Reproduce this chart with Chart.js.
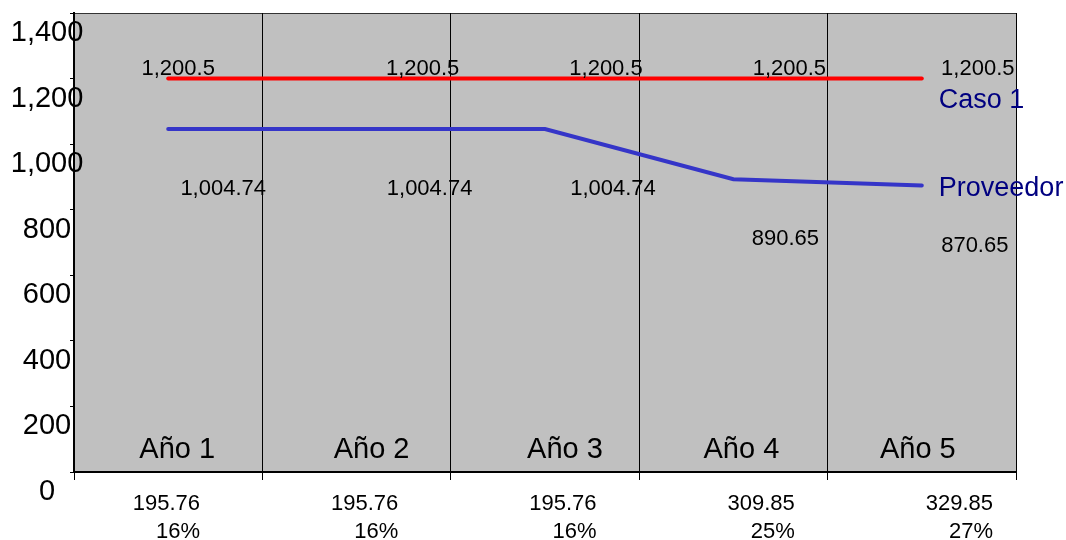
<!DOCTYPE html>
<html>
<head>
<meta charset="utf-8">
<script src="https://cdn.jsdelivr.net/npm/chart.js@4"></script>
<style>
  html, body { margin: 0; padding: 0; background: #fff; }
  canvas { display: block; }
</style>
</head>
<body>
<canvas id="chart" width="1066" height="540"></canvas>
<script>
const categories = ['Año 1', 'Año 2', 'Año 3', 'Año 4', 'Año 5'];
const seriesNames = ['Caso 1', 'Proveedor'];
const casoValues = [1200.5, 1200.5, 1200.5, 1200.5, 1200.5];
const proveedorValues = [1046, 1046, 1046, 893, 874];
const casoText = ['1,200.5', '1,200.5', '1,200.5', '1,200.5', '1,200.5'];
const proveedorText = ['1,004.74', '1,004.74', '1,004.74', '890.65', '870.65'];
const amounts = ['195.76', '195.76', '195.76', '309.85', '329.85'];
const percents = ['16%', '16%', '16%', '25%', '27%'];
const yTicks = [0, 200, 400, 600, 800, 1000, 1200, 1400];

const FONT = "'Liberation Sans', Arial, sans-serif";
Chart.defaults.font.family = FONT;
Chart.defaults.color = '#000';

// hand-tuned nudges so the text sits where the original puts it
const casoDx = [10, 66, 61, 56, 56];
const provDx = [55, 73, 68, 52, 53];
const yearDx = [9, 15, 20, 8, -4];

const plotBg = {
  id: 'plotBg',
  beforeDraw(chart) {
    const { ctx, chartArea: a } = chart;
    ctx.save();
    ctx.fillStyle = '#c0c0c0';
    ctx.fillRect(a.left, a.top, a.right - a.left, a.bottom - a.top);
    ctx.strokeStyle = '#333';
    ctx.lineWidth = 1;
    ctx.beginPath();
    ctx.moveTo(a.left, a.top + 0.5);
    ctx.lineTo(a.right, a.top + 0.5);
    ctx.stroke();
    ctx.restore();
  }
};

const textLabels = {
  id: 'textLabels',
  afterDatasetsDraw(chart) {
    const { ctx, chartArea: a } = chart;
    const xs = chart.scales.x;
    const caso = chart.getDatasetMeta(0).data;
    const prov = chart.getDatasetMeta(1).data;
    ctx.save();
    ctx.fillStyle = '#000';
    ctx.textAlign = 'center';
    ctx.textBaseline = 'middle';
    ctx.font = `22px ${FONT}`;
    caso.forEach((p, i) => ctx.fillText(casoText[i], p.x + casoDx[i], p.y - 9));
    prov.forEach((p, i) => ctx.fillText(proveedorText[i], p.x + provDx[i], p.y + 60));

    // year names inside the plot, along the bottom
    ctx.font = `29px ${FONT}`;
    ctx.textBaseline = 'alphabetic';
    categories.forEach((c, i) => ctx.fillText(c, xs.getPixelForValue(i) + yearDx[i], a.bottom - 14));

    // series names at the line ends
    ctx.font = `27px ${FONT}`;
    ctx.fillStyle = '#000080';
    ctx.textAlign = 'left';
    ctx.textBaseline = 'middle';
    const lc = caso[caso.length - 1], lp = prov[prov.length - 1];
    ctx.fillText(seriesNames[0], lc.x + 17, lc.y + 22);
    ctx.fillText(seriesNames[1], lp.x + 17, lp.y + 3);
    ctx.restore();
  }
};

new Chart(document.getElementById('chart'), {
  type: 'line',
  data: {
    labels: categories,
    datasets: [
      {
        label: seriesNames[0],
        data: casoValues,
        borderColor: '#ff0000',
        borderWidth: 4,
        borderCapStyle: 'round',
        pointRadius: 0,
        tension: 0
      },
      {
        label: seriesNames[1],
        data: proveedorValues,
        borderColor: '#3535c8',
        borderWidth: 4,
        borderCapStyle: 'round',
        pointRadius: 0,
        tension: 0
      }
    ]
  },
  options: {
    responsive: false,
    animation: false,
    devicePixelRatio: 1,
    layout: { padding: { left: 70, right: 50, top: 13, bottom: -16 } },
    plugins: { legend: { display: false }, tooltip: { enabled: false } },
    scales: {
      x: {
        type: 'category',
        offset: true,
        weight: 0,
        grid: { offset: true, color: '#000', lineWidth: 1, drawTicks: true, tickLength: 8, tickColor: '#000' },
        border: { display: true, color: '#000', width: 2 },
        ticks: { display: false }
      },
      xb: {
        type: 'linear',
        position: 'bottom',
        weight: 1,
        min: 0.3644,
        max: 5.116,
        grid: { display: false, drawTicks: false },
        border: { display: false },
        afterBuildTicks: ax => { ax.ticks = categories.map((_, i) => ({ value: i + 1 })); },
        ticks: {
          autoSkip: false,
          maxRotation: 0,
          align: 'end',
          padding: 10,
          font: { size: 22, lineHeight: '28px' },
          callback: v => [amounts[v - 1], percents[v - 1]]
        }
      },
      y: {
        min: 0,
        max: 1400,
        afterBuildTicks: ax => { ax.ticks = yTicks.map(v => ({ value: v })); },
        // labels overlap the axis line in the original, so mirror them (no clipping)
        // and pull them back out to the left with a negative padding
        afterFit: ax => { ax.width = 4; },
        grid: { drawOnChartArea: false, drawTicks: true, tickLength: 4, color: '#000' },
        border: { color: '#000', width: 2 },
        ticks: {
          mirror: true,
          crossAlign: 'center',
          padding: -63.25,
          labelOffset: 20,
          font: { size: 29 },
          callback: v => v.toLocaleString('en-US')
        }
      }
    }
  },
  plugins: [plotBg, textLabels]
});
</script>
</body>
</html>
